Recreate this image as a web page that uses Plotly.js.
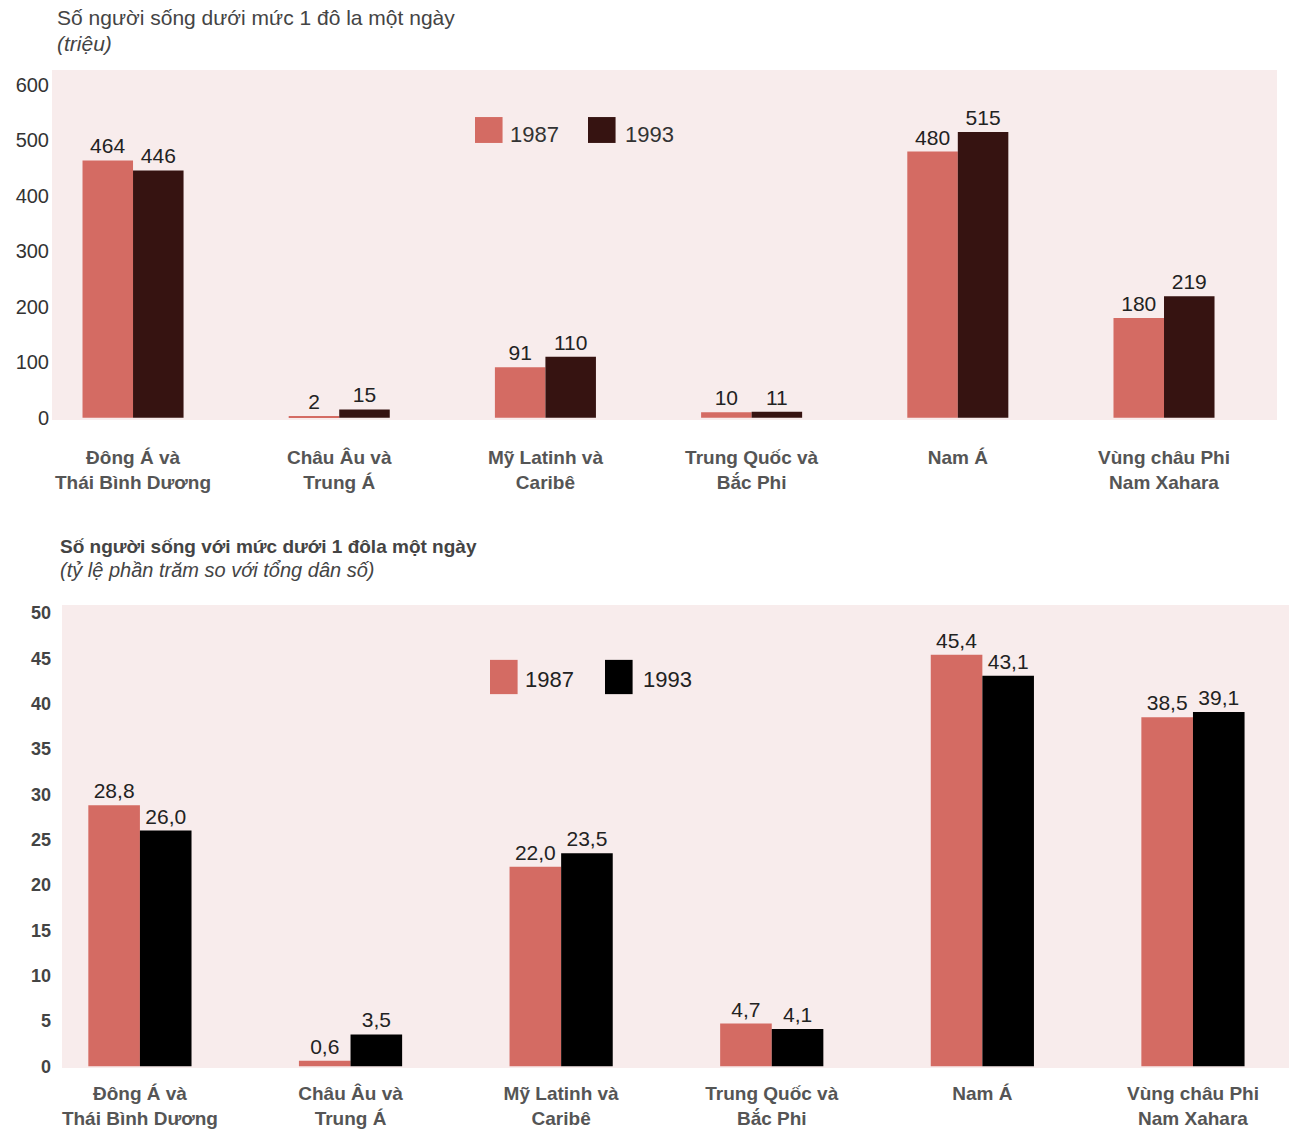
<!DOCTYPE html>
<html>
<head>
<meta charset="utf-8">
<script src="https://cdn.plot.ly/plotly-3.0.1.min.js"></script>
<style>html,body{margin:0;padding:0;background:#fff;}#chart{width:1289px;height:1131px;}</style>
</head>
<body>
<div id="chart"></div>
<script>
// ---- data ----
var categories = [
  "Đông Á và<br>Thái Bình Dương",
  "Châu Âu và<br>Trung Á",
  "Mỹ Latinh và<br>Caribê",
  "Trung Quốc và<br>Bắc Phi",
  "Nam Á",
  "Vùng châu Phi<br>Nam Xahara"
];
var seriesNames = ["1987", "1993"];
var millions1987 = [464, 2, 91, 10, 480, 180];
var millions1993 = [446, 15, 110, 11, 515, 219];
var percent1987 = [28.8, 0.6, 22.0, 4.7, 45.4, 38.5];
var percent1993 = [26.0, 3.5, 23.5, 4.1, 43.1, 39.1];
var topTicks = [0, 100, 200, 300, 400, 500, 600];
var bottomTicks = [0, 5, 10, 15, 20, 25, 30, 35, 40, 45, 50];

// ---- styles ----
var FONT = "Liberation Sans, Arial, Helvetica, sans-serif";
var C87 = "#d46b63", C93top = "#361311", C93bot = "#000000";
var BG = "#f8ecec";
var idx = categories.map(function (_, i) { return i; });
function comma(v) { return v.toFixed(1).replace(".", ","); }

function bar(xa, ya, y, color, name, text, fontSize) {
  return {
    type: "bar", x: idx, y: y, xaxis: xa, yaxis: ya, name: name,
    marker: { color: color, line: { width: 0 } },
    text: text, textposition: "outside", cliponaxis: false,
    textfont: { family: FONT, size: fontSize, color: "#222" },
    showlegend: false, hoverinfo: "x+y"
  };
}

var traces = [
  bar("x", "y", millions1987, C87, seriesNames[0], millions1987.map(String), 21),
  bar("x", "y", millions1993, C93top, seriesNames[1], millions1993.map(String), 21),
  bar("x2", "y2", percent1987, C87, seriesNames[0], percent1987.map(comma), 21),
  bar("x2", "y2", percent1993, C93bot, seriesNames[1], percent1993.map(comma), 21)
];

var catLabels = categories.map(function (c) { return "<b>" + c + "</b>"; });

function legendShapes(xref, yref, x0, yc, colors) {
  return colors.map(function (col, k) {
    return {
      type: "rect", xref: xref, yref: yref,
      x0: x0[k], x1: x0[k] + 0.0225, y0: yc - 0.037, y1: yc + 0.037,
      fillcolor: col, line: { width: 0 }, layer: "above"
    };
  });
}

var layout = {
  width: 1289, height: 1131,
  margin: { l: 0, r: 0, t: 0, b: 0 },
  paper_bgcolor: "#ffffff",
  plot_bgcolor: BG,
  barmode: "group", bargap: 0.51, bargroupgap: 0,
  font: { family: FONT, color: "#333" },
  xaxis: {
    domain: [52 / 1289, 1277 / 1289], anchor: "y",
    type: "linear", range: [-0.393, 5.548],
    tickvals: idx, ticktext: catLabels,
    tickfont: { family: FONT, size: 19, color: "#555" },
    ticklabelstandoff: 24,
    showgrid: false, zeroline: false, showline: false, ticks: ""
  },
  yaxis: {
    domain: [(1131 - 420) / 1131, (1131 - 70) / 1131], anchor: "x",
    range: [-4, 627], tickvals: topTicks,
    tickfont: { family: FONT, size: 20, color: "#333" },
    showgrid: false, zeroline: false, showline: false, ticks: "",
    ticklabelstandoff: 2
  },
  xaxis2: {
    domain: [62 / 1289, 1], anchor: "y2",
    type: "linear", range: [-0.37, 5.456],
    tickvals: idx, ticktext: catLabels,
    tickfont: { family: FONT, size: 19, color: "#555" },
    ticklabelstandoff: 12,
    showgrid: false, zeroline: false, showline: false, ticks: ""
  },
  yaxis2: {
    domain: [(1131 - 1068) / 1131, (1131 - 605) / 1131], anchor: "x2",
    range: [-0.2, 50.9], tickvals: bottomTicks,
    tickfont: { family: FONT, size: 18, color: "#444", weight: "bold" },
    showgrid: false, zeroline: false, showline: false, ticks: "",
    ticklabelstandoff: 10
  },
  shapes: [].concat(
    legendShapes("x domain", "y domain", [(475 - 52) / 1225, (588 - 52) / 1225], (420 - 130) / 350, [C87, C93top]),
    legendShapes("x2 domain", "y2 domain", [(490 - 62) / 1227, (605 - 62) / 1227], (1068 - 677) / 463, [C87, C93bot])
  ),
  annotations: [
    { xref: "paper", yref: "paper", x: 55 / 1289, y: 1 - 17 / 1131, xanchor: "left", yanchor: "middle",
      text: "Số người sống dưới mức 1 đô la một ngày", showarrow: false,
      font: { family: FONT, size: 21, color: "#444" } },
    { xref: "paper", yref: "paper", x: 55 / 1289, y: 1 - 43 / 1131, xanchor: "left", yanchor: "middle",
      text: "<i>(triệu)</i>", showarrow: false,
      font: { family: FONT, size: 21, color: "#444" } },
    { xref: "paper", yref: "paper", x: 58 / 1289, y: 1 - 546 / 1131, xanchor: "left", yanchor: "middle",
      text: "<b>Số người sống với mức dưới 1 đôla một ngày</b>", showarrow: false,
      font: { family: FONT, size: 19, color: "#444" } },
    { xref: "paper", yref: "paper", x: 58 / 1289, y: 1 - 570 / 1131, xanchor: "left", yanchor: "middle",
      text: "<i>(tỷ lệ phần trăm so với tổng dân số)</i>", showarrow: false,
      font: { family: FONT, size: 20, color: "#444" } },
    { xref: "x domain", yref: "y domain", x: (508 - 52) / 1225, y: (420 - 134) / 350, xanchor: "left", yanchor: "middle",
      text: seriesNames[0], showarrow: false, font: { family: FONT, size: 22, color: "#333" } },
    { xref: "x domain", yref: "y domain", x: (623 - 52) / 1225, y: (420 - 134) / 350, xanchor: "left", yanchor: "middle",
      text: seriesNames[1], showarrow: false, font: { family: FONT, size: 22, color: "#333" } },
    { xref: "x2 domain", yref: "y2 domain", x: (523 - 62) / 1227, y: (1068 - 679) / 463, xanchor: "left", yanchor: "middle",
      text: seriesNames[0], showarrow: false, font: { family: FONT, size: 22, color: "#222" } },
    { xref: "x2 domain", yref: "y2 domain", x: (641 - 62) / 1227, y: (1068 - 679) / 463, xanchor: "left", yanchor: "middle",
      text: seriesNames[1], showarrow: false, font: { family: FONT, size: 22, color: "#222" } }
  ]
};

Plotly.newPlot("chart", traces, layout, { displayModeBar: false, responsive: false });
</script>
</body>
</html>
